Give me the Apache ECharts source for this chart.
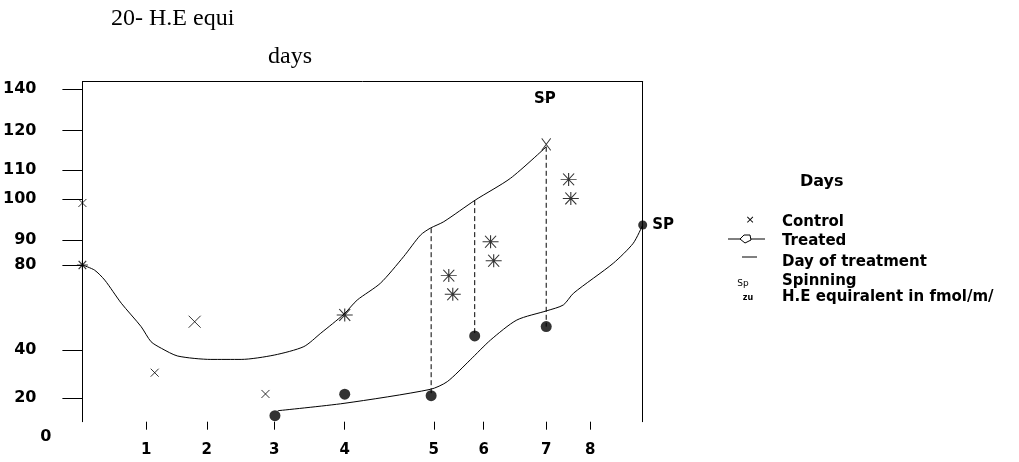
<!DOCTYPE html>
<html>
<head>
<meta charset="utf-8">
<script src="https://cdn.jsdelivr.net/npm/echarts@6.0.0/dist/echarts.min.js"></script>
<style>
  html, body { margin: 0; padding: 0; background: #ffffff; }
  #chart { width: 1019px; height: 462px; }
</style>
</head>
<body>
<div id="chart"></div>
<script>
// ---- scale breakpoints of the (irregular, hand-drawn) axes ----
const xDayStops = [0, 1, 2, 3, 4, 5, 6, 7, 8, 9];
const xPosStops = [0, 11.39, 22.20, 34.24, 46.82, 62.72, 71.62, 82.78, 90.62, 100];
const yValStops = [0, 20, 40, 80, 90, 100, 110, 120, 140, 144];
const yPosStops = [0, 6.88, 21.09, 46.09, 53.44, 65.41, 74.03, 85.59, 97.76, 100];

// ---- tick labels ----
const xTickLabels = ['1', '2', '3', '4', '5', '6', '7', '8'];
const yTickLabels = [0, 20, 40, 80, 90, 100, 110, 120, 140];

// ---- data (days, values) ----
const upperCurveDays   = [0, 0.19, 0.35, 0.61, 0.92, 1.08, 1.25, 1.52, 2.06, 2.51, 3.0, 3.42, 3.66, 3.99, 4.14, 4.40, 4.66, 4.85, 4.96, 5.20, 5.83, 6.43, 7.0];
const upperCurveValues = [80, 77.6, 72.9, 62.0, 51.0, 43.9, 40.8, 37.5, 36.1, 36.1, 37.9, 41.6, 47.9, 56.9, 63.5, 71.4, 83.3, 91.2, 92.9, 94.5, 99.8, 107.2, 115.9];

const lowerCurveDays   = [3.05, 3.99, 4.96, 5.27, 5.73, 6.11, 6.53, 7.02, 7.39, 7.62, 8.44, 8.82, 9];
const lowerCurveValues = [9.4, 15.7, 23.7, 26.9, 35.9, 44.7, 54.1, 58.5, 61.2, 66.7, 80.7, 88.7, 93.7];

const controlDays   = [0, 1.14, 1.80, 2.87, 7.0];
const controlValues = [99.1, 30.6, 53.3, 21.8, 116.5];

const treatedDays   = [0, 4.0, 5.30, 5.38, 6.11, 6.16, 7.51, 7.56];
const treatedValues = [80, 56.5, 75.0, 66.2, 89.3, 81.7, 106.8, 100.3];

const dotDays   = [3.01, 4.0, 4.97, 5.82, 7.0, 9];
const dotValues = [5.1, 21.7, 21.1, 46.6, 51.0, 93.7];

const dashDays   = [4.97, 5.82, 7.0];
const dashTop    = [92.9, 99.8, 115.9];
const dashBottom = [21.1, 46.6, 51.0];

const spDays   = [6.98, 9];
const spValues = [135.2, 93.7];
const spText   = ['SP', 'SP'];

const titleLines  = ['20- H.E equi', 'days'];
const legendTitle = 'Days';
const legendLabels = ['Control', 'Treated', 'Day of treatment', 'Spinning', 'H.E equiralent in fmol/m/'];
const legendKeys   = ['×', '', '', 'Sp', 'zu'];

// ---- piecewise-linear scale ----
function interp(v, from, to) {
  const n = from.length;
  let i = 0;
  if (v <= from[0]) i = 0;
  else if (v >= from[n - 1]) i = n - 2;
  else { while (i < n - 2 && v > from[i + 1]) i++; }
  const t = (v - from[i]) / (from[i + 1] - from[i]);
  return to[i] + t * (to[i + 1] - to[i]);
}
const X = d => interp(d, xDayStops, xPosStops);
const Y = v => interp(v, yValStops, yPosStops);
const pts = (ds, vs) => ds.map((d, i) => [X(d), Y(vs[i])]);

const xTickPos = xTickLabels.map(l => X(+l));
const yTickPos = yTickLabels.map(v => Y(v));

const BOLD = 'DejaVu Sans';
const crossPath = 'path://M0,0L10,10M10,0L0,10';
const starPath = 'path://M0,6L16,6M8,0L8,12M2.5,0.5L13.5,11.5M13.5,0.5L2.5,11.5';

const chart = echarts.init(document.getElementById('chart'), null, { renderer: 'canvas' });

const series = [
  {
    type: 'line', name: 'upper', data: pts(upperCurveDays, upperCurveValues),
    symbol: 'none', smooth: 0.25, lineStyle: { color: '#000', width: 1 }, z: 3
  },
  {
    type: 'line', name: 'lower', data: pts(lowerCurveDays, lowerCurveValues),
    symbol: 'none', smooth: 0.25, lineStyle: { color: '#000', width: 1 }, z: 3
  }
];
dashDays.forEach((d, i) => {
  series.push({
    type: 'line', data: [[X(d), Y(dashTop[i])], [X(d), Y(dashBottom[i])]],
    symbol: 'none', lineStyle: { color: '#000', width: 1, type: [5, 3] }, z: 2
  });
});
series.push({
  type: 'scatter', name: 'Control', data: pts(controlDays, controlValues),
  symbol: crossPath,
  symbolSize: (v, p) => p.dataIndex === 2 ? 12 : (p.dataIndex === 4 ? [9, 12] : 8),
  itemStyle: { color: 'rgba(0,0,0,0)', borderColor: '#000', borderWidth: 1 }, z: 5
});
series.push({
  type: 'scatter', name: 'Treated', data: pts(treatedDays, treatedValues),
  symbol: starPath,
  symbolSize: (v, p) => p.dataIndex === 0 ? [11, 9] : [16, 13],
  itemStyle: { color: 'rgba(0,0,0,0)', borderColor: '#000', borderWidth: 1 }, z: 5
});
series.push({
  type: 'scatter', name: 'dots', data: pts(dotDays, dotValues),
  symbol: 'circle',
  symbolSize: (v, p) => p.dataIndex === dotDays.length - 1 ? 9 : 11,
  itemStyle: { color: '#000' }, z: 6
});
series.push({
  type: 'scatter', name: 'sp', symbolSize: 1,
  itemStyle: { color: '#000', opacity: 1 },
  data: spDays.map((d, i) => ({
    value: [X(d), Y(spValues[i])],
    label: {
      show: true, formatter: spText[i], position: i === 0 ? 'inside' : 'right', distance: 9,
      color: '#000', fontFamily: BOLD, fontWeight: 'bold', fontSize: 15, textBorderWidth: 0
    }
  })),
  label: { color: '#000', fontFamily: BOLD, fontWeight: 'bold', fontSize: 15, textBorderWidth: 0 }, z: 7
});

// legend drawn as key
const rowY = [222, 241, 262, 281, 297];
const legendChildren = [
  { type: 'text', x: 800, y: 182, style: { text: legendTitle, fill: '#000', font: 'bold 16px "DejaVu Sans"', verticalAlign: 'middle' } }
];
legendLabels.forEach((t, i) => {
  legendChildren.push({ type: 'text', x: 782, y: rowY[i], style: { text: t, fill: '#000', font: 'bold 15px "DejaVu Sans"', verticalAlign: 'middle' } });
});
// key marks
legendChildren.push({ type: 'text', x: 750, y: 220, style: { text: legendKeys[0], fill: '#000', font: '11px "DejaVu Sans"', align: 'center', verticalAlign: 'middle' } });
legendChildren.push({ type: 'line', shape: { x1: 728, y1: 239, x2: 765, y2: 239 }, style: { stroke: '#000', lineWidth: 1 } });
legendChildren.push({ type: 'polygon', shape: { points: [[740, 239], [744, 235], [750, 235], [751, 240], [745, 243]] }, style: { fill: '#fff', stroke: '#000', lineWidth: 1 } });
legendChildren.push({ type: 'line', shape: { x1: 742, y1: 257, x2: 757, y2: 257 }, style: { stroke: '#000', lineWidth: 1 } });
legendChildren.push({ type: 'text', x: 743, y: 284, style: { text: legendKeys[3], fill: '#000', font: '9px "DejaVu Sans"', align: 'center', verticalAlign: 'middle' } });
legendChildren.push({ type: 'text', x: 748, y: 298, style: { text: legendKeys[4], fill: '#000', font: 'bold 8px "DejaVu Sans"', align: 'center', verticalAlign: 'middle' } });

const option = {
  animation: false,
  backgroundColor: '#fff',
  grid: { left: 81, top: 81.7, right: 376.3, bottom: 40.3, containLabel: false },
  xAxis: [
    {
      type: 'value', min: 0, max: 100, position: 'bottom', offset: 11,
      axisLine: { show: false },
      splitLine: { show: false },
      axisTick: { show: true, customValues: xTickPos, length: 8, lineStyle: { color: '#000', width: 1 } },
      axisLabel: {
        customValues: xTickPos, margin: 10, color: '#000', fontFamily: BOLD, fontWeight: 'bold', fontSize: 15,
        formatter: v => { const i = xTickPos.findIndex(p => Math.abs(p - v) < 1e-6); return i >= 0 ? xTickLabels[i] : ''; }
      }
    },
    {
      type: 'value', min: 0, max: 100, position: 'top',
      axisLine: { show: true, onZero: false, lineStyle: { color: '#000', width: 1 } },
      axisTick: { show: false }, axisLabel: { show: false }, splitLine: { show: false }
    }
  ],
  yAxis: [
    {
      type: 'value', min: 0, max: 100, position: 'left',
      axisLine: { show: true, onZero: false, lineStyle: { color: '#000', width: 1 } },
      splitLine: { show: false },
      axisTick: { show: true, customValues: yTickPos.slice(1), length: 20, lineStyle: { color: '#000', width: 1 } },
      axisLabel: {
        customValues: yTickPos, margin: 31,
        formatter: v => {
          const i = yTickPos.findIndex(p => Math.abs(p - v) < 1e-6);
          if (i < 0) return '';
          return i === 0 ? '{z|' + yTickLabels[i] + '}' : '{n|' + yTickLabels[i] + '}';
        },
        rich: {
          n: { color: '#000', fontFamily: BOLD, fontWeight: 'bold', fontSize: 16, padding: [0, 15, 0, 0] },
          z: { color: '#000', fontFamily: BOLD, fontWeight: 'bold', fontSize: 16, padding: [30, 0, 0, 0] }
        }
      }
    },
    {
      type: 'value', min: 0, max: 100, position: 'right',
      axisLine: { show: true, onZero: false, lineStyle: { color: '#000', width: 1 } },
      axisTick: { show: false }, axisLabel: { show: false }, splitLine: { show: false }
    }
  ],
  graphic: [
    { type: 'text', x: 111, y: 19, style: { text: titleLines[0], fill: '#000', font: '24px "Liberation Serif"', verticalAlign: 'middle' } },
    { type: 'text', x: 268, y: 56.5, style: { text: titleLines[1], fill: '#000', font: '24px "Liberation Serif"', verticalAlign: 'middle' } },
    { type: 'group', children: legendChildren }
  ],
  series: series
};
chart.setOption(option);
</script>
</body>
</html>
